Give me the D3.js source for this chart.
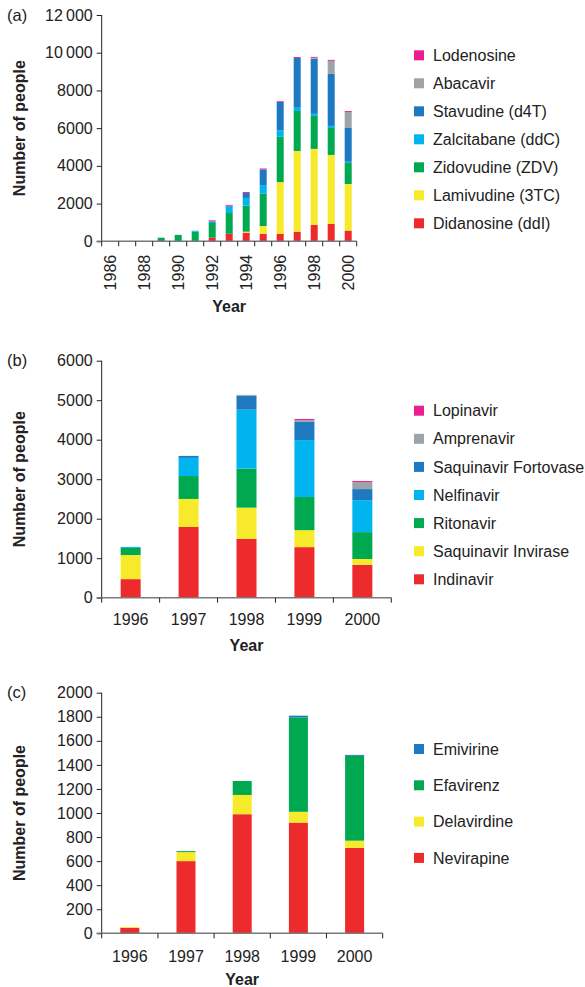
<!DOCTYPE html>
<html><head><meta charset="utf-8">
<script src="https://cdn.jsdelivr.net/npm/d3@7"></script>
<style>
body{margin:0;background:#fff;}
svg text{font-family:"Liberation Sans",Arial,Helvetica,sans-serif;fill:#222;}
</style></head>
<body><svg id="chart" width="585" height="987"></svg>
<script>
// ---------- DATA ----------
const yearsA = ["1986","1987","1988","1989","1990","1991","1992","1993","1994","1995","1996","1997","1998","1999","2000"];
const seriesA = ["Didanosine (ddI)","Lamivudine (3TC)","Zidovudine (ZDV)","Zalcitabane (ddC)","Stavudine (d4T)","Abacavir","Lodenosine"];
const didanosine = [0,0,0,0,0,0,190,400,460,390,390,510,870,920,570];
const lamivudine = [0,0,0,0,0,0,0,0,50,420,2750,4280,4030,3660,2470];
const zidovudine = [0,20,20,190,340,510,780,1100,1380,1710,2400,2120,1750,1430,1110];
const zalcitabane = [0,0,0,0,0,50,90,340,410,460,350,210,110,110,70];
const stavudine = [0,0,0,0,0,0,0,50,260,830,1500,2600,2920,2760,1790];
const abacavir = [0,0,0,0,0,0,0,0,0,0,0,0,50,690,850];
const lodenosine = [0,0,0,0,0,0,50,40,50,50,40,50,50,50,50];
const ticksA = [0,2000,4000,6000,8000,10000,12000];

const yearsB = ["1996","1997","1998","1999","2000"];
const seriesB = ["Indinavir","Saquinavir Invirase","Ritonavir","Nelfinavir","Saquinavir Fortovase","Amprenavir","Lopinavir"];
const indinavir = [470,1790,1490,1280,830];
const saqInvirase = [610,710,790,430,150];
const ritonavir = [180,580,990,840,680];
const nelfinavir = [25,460,1490,1440,810];
const saqFortovase = [0,50,350,460,280];
const amprenavir = [0,0,25,50,180];
const lopinavir = [0,0,0,25,25];
const ticksB = [0,1000,2000,3000,4000,5000,6000];

const yearsC = ["1996","1997","1998","1999","2000"];
const seriesC = ["Nevirapine","Delavirdine","Efavirenz","Emivirine"];
const nevirapine = [44,600,990,920,710];
const delavirdine = [8,75,160,90,60];
const efavirenz = [0,8,116,785,705];
const emivirine = [0,0,0,14,8];
const ticksC = [0,200,400,600,800,1000,1200,1400,1600,1800,2000];

const colors7 = ["#ED2B2D","#F7EA2A","#00A94F","#00B5EF","#1F79C1","#9EA3A8","#EC1E8F"];
const colorsC = ["#ED2B2D","#F7EA2A","#00A94F","#1F79C1"];

// ---------- DRAW ----------
const svg = d3.select("#chart");
const FS = 16;

function fmt(v){ return v>=10000 ? d3.format("d")(Math.floor(v/1000)) + "\u2009" + "000" : String(v); }

function panel(opt){
  const g = svg.append("g");
  const rows = opt.cats.map((c,i)=>{ const r={cat:c}; opt.keys.forEach((k,j)=>r[k]=opt.vals[j][i]); return r; });
  const stack = d3.stack().keys(opt.keys)(rows);
  const x = d3.scaleBand().domain(opt.cats).range([opt.x0,opt.x1]).paddingInner(0).paddingOuter(0);
  const y = d3.scaleLinear().domain([0,opt.ymax]).range([opt.y0,opt.y1]);
  const bw = opt.bw;

  // bars
  stack.forEach((s,j)=>{
    g.append("g").attr("fill",opt.colors[j]).selectAll("rect").data(s).join("rect")
      .attr("x",d=>x(d.data.cat)+x.bandwidth()/2-bw/2)
      .attr("width",bw)
      .attr("y",d=>y(d[1]))
      .attr("height",d=>Math.max(0,y(d[0])-y(d[1])));
  });

  // y axis
  const ya = g.append("g").attr("transform",`translate(${opt.x0},0)`)
    .call(d3.axisLeft(y).tickValues(opt.ticks).tickFormat(fmt).tickSize(5).tickPadding(4));
  ya.select(".domain").attr("stroke","#222").attr("stroke-width",1).attr("d",`M-0,${opt.y1}V${opt.y0}`);
  ya.selectAll(".tick line").attr("stroke","#222");
  ya.selectAll("text").style("font-size",FS+"px").attr("fill","#222");

  // x axis: ticks at band boundaries
  const bounds = opt.cats.map(c=>x(c)).concat([opt.x1]);
  const xa = g.append("g").attr("transform",`translate(0,${opt.y0})`);
  xa.append("line").attr("x1",opt.x0-5).attr("x2",opt.x1).attr("stroke","#7a7a7a").attr("stroke-width",1.5);
  xa.selectAll("line.tk").data(bounds).join("line").attr("class","tk")
    .attr("x1",d=>d).attr("x2",d=>d).attr("y1",0).attr("y2",5).attr("stroke","#222");
  const lab = xa.selectAll("text.tl").data(opt.cats.filter((c,i)=>opt.labelEvery? i%opt.labelEvery===0 : true)).join("text").attr("class","tl")
    .style("font-size",FS+"px").text(d=>d);
  if(opt.rotate){
    lab.attr("transform",d=>`translate(${x(d)+x.bandwidth()/2},13.5) rotate(-90)`)
      .attr("text-anchor","end").attr("dy","0.35em");
  } else {
    lab.attr("x",d=>x(d)+x.bandwidth()/2).attr("y",opt.xlabY-opt.y0).attr("text-anchor","middle");
  }

  // axis titles
  g.append("text").attr("x",(opt.x0+opt.x1)/2).attr("y",opt.yearY).attr("text-anchor","middle")
    .style("font-size",FS+"px").style("font-weight","bold").text("Year");
  g.append("text").attr("transform",`translate(25,${(opt.y0+opt.y1)/2}) rotate(-90)`).attr("text-anchor","middle")
    .style("font-size",FS+"px").style("font-weight","bold").text("Number of people");
  g.append("text").attr("x",7).attr("y",opt.y1+5.5).style("font-size","16.5px").text(opt.tag);

  // legend (top to bottom = reverse of stack order)
  const leg = g.append("g");
  const items = opt.keys.map((k,j)=>({k,c:opt.colors[j]})).reverse();
  items.forEach((it,i)=>{
    const cy = opt.legY + i*opt.legStep;
    leg.append("rect").attr("x",414).attr("y",cy-5).attr("width",10).attr("height",10).attr("fill",it.c);
    leg.append("text").attr("x",433).attr("y",cy).attr("dy","0.35em").style("font-size",FS+"px").text(it.k);
  });
}

panel({tag:"(a)",cats:yearsA,keys:seriesA,vals:[didanosine,lamivudine,zidovudine,zalcitabane,stavudine,abacavir,lodenosine],
  colors:colors7,ymax:12000,ticks:ticksA,x0:101.7,x1:356.7,y0:241.3,y1:15,bw:7,rotate:true,labelEvery:2,
  yearY:311.5,legY:55.3,legStep:28});
panel({tag:"(b)",cats:yearsB,keys:seriesB,vals:[indinavir,saqInvirase,ritonavir,nelfinavir,saqFortovase,amprenavir,lopinavir],
  colors:colors7,ymax:6000,ticks:ticksB,x0:101.7,x1:391.3,y0:597.7,y1:360.7,bw:20,rotate:false,
  xlabY:625,yearY:651,legY:410.7,legStep:28.1});
panel({tag:"(c)",cats:yearsC,keys:seriesC,vals:[nevirapine,delavirdine,efavirenz,emivirine],
  colors:colorsC,ymax:2000,ticks:ticksC,x0:101.7,x1:382.7,y0:933.3,y1:692.7,bw:19,rotate:false,
  xlabY:962,yearY:985,legY:749,legStep:36.3});
</script>
</body></html>
